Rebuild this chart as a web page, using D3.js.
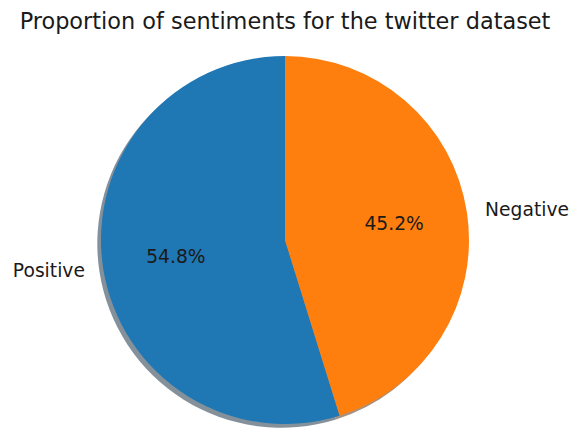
<!DOCTYPE html>
<html>
<head>
<meta charset="utf-8">
<script src="https://cdn.jsdelivr.net/npm/d3@7"></script>
<style>
  html, body { margin: 0; padding: 0; background: #fff; }
  svg text { font-family: "DejaVu Sans", sans-serif; fill: #1a1a1a; }
</style>
</head>
<body>
<svg id="chart" width="571" height="428"></svg>
<script>
const categories = ["Positive", "Negative"];
const values = [54.8, 45.2];
const colors = ["#1f77b4", "#ff7f0e"];
const title = "Proportion of sentiments for the twitter dataset";

const svg = d3.select("#chart");
const cx = 285, cy = 240, r = 184;

// Pie starts at the top and runs counter-clockwise (Positive on the left)
const pie = d3.pie().sort(null).value(d => d.v)
  .startAngle(0).endAngle(-2 * Math.PI);
const data = pie(categories.map((c, i) => ({ c, v: values[i], col: colors[i] })));
const arc = d3.arc().innerRadius(0).outerRadius(r);

// Drop shadow: each wedge, darkened, shifted left and down
const shadow = svg.append("g")
  .attr("transform", `translate(${cx - 0.02 * r},${cy + 0.02 * r})`);
shadow.selectAll("path").data(data).join("path")
  .attr("d", arc)
  .attr("fill", d => { const c = d3.rgb(d.data.col); return d3.rgb(c.r * 0.3, c.g * 0.3, c.b * 0.3); })
  .attr("fill-opacity", 0.5);

const g = svg.append("g").attr("transform", `translate(${cx},${cy})`);
g.selectAll("path").data(data).join("path")
  .attr("d", arc)
  .attr("fill", d => d.data.col);

// Percentages at 0.6 r
const pctArc = d3.arc().innerRadius(0.6 * r).outerRadius(0.6 * r);
g.selectAll("text.pct").data(data).join("text")
  .attr("class", "pct")
  .attr("transform", d => `translate(${pctArc.centroid(d)})`)
  .attr("text-anchor", "middle")
  .attr("dominant-baseline", "central")
  .style("font-size", "18.7px")
  .text(d => d.data.v.toFixed(1) + "%");

// Category labels at 1.1 r
const lblArc = d3.arc().innerRadius(1.1 * r).outerRadius(1.1 * r);
g.selectAll("text.lbl").data(data).join("text")
  .attr("class", "lbl")
  .attr("transform", d => `translate(${lblArc.centroid(d)})`)
  .attr("text-anchor", d => lblArc.centroid(d)[0] < 0 ? "end" : "start")
  .attr("dominant-baseline", "central")
  .style("font-size", "18.7px")
  .text(d => d.data.c);

svg.append("text")
  .attr("x", cx).attr("y", 29)
  .attr("text-anchor", "middle")
  .style("font-size", "22.4px")
  .text(title);
</script>
</body>
</html>
